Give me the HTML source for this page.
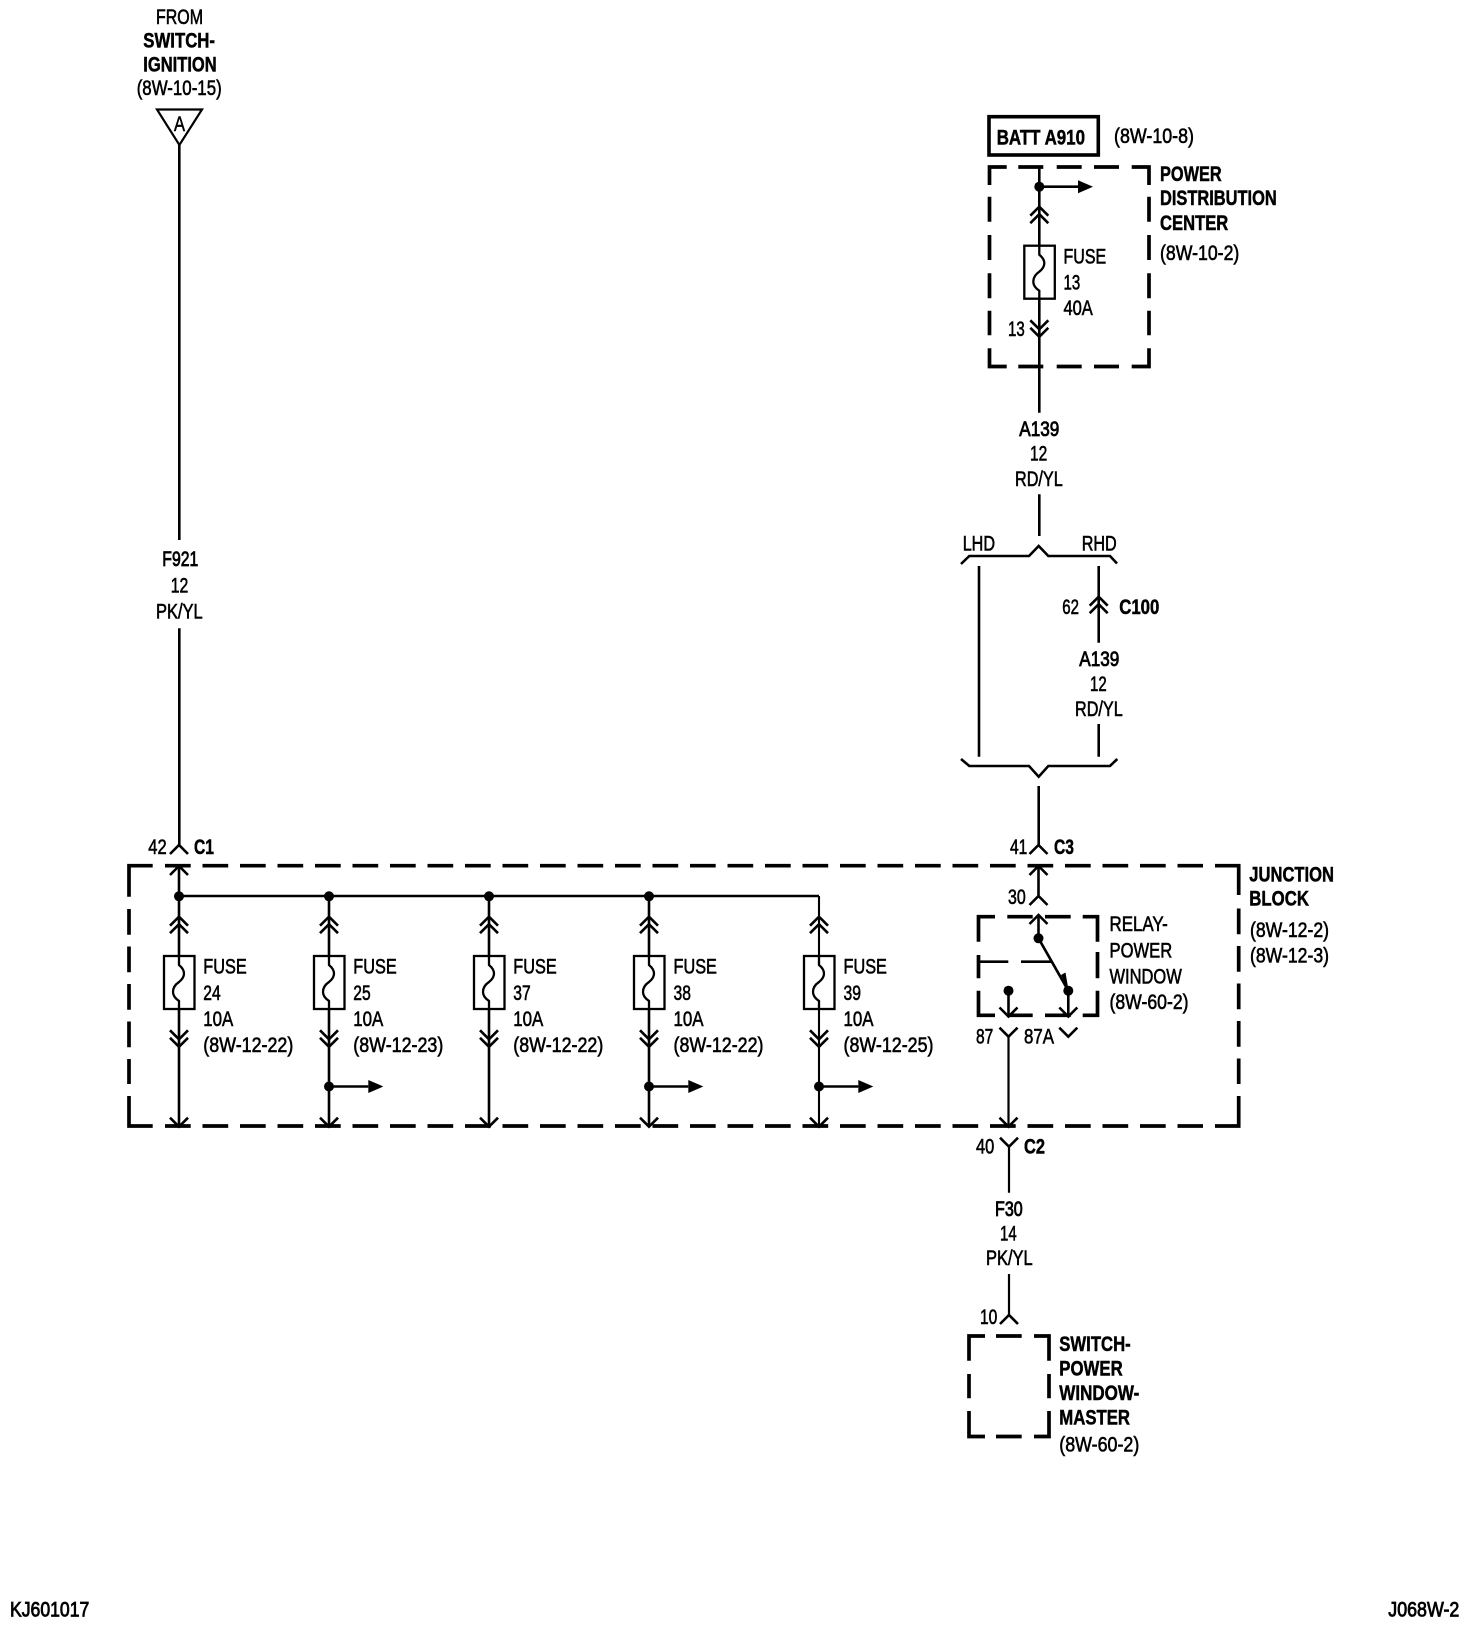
<!DOCTYPE html>
<html><head><meta charset="utf-8"><style>
html,body{margin:0;padding:0;background:#fff}
svg{display:block}
text{font-family:"Liberation Sans",sans-serif;font-size:21px;fill:#000}
.r{stroke:#000;stroke-width:.6}
.m{stroke:#000;stroke-width:.85}
.b{font-weight:bold;stroke:#000;stroke-width:.5}
.w{fill:none;stroke:#000;stroke-width:2.6;stroke-linejoin:miter}
.d{fill:none;stroke:#000;stroke-width:3.7;stroke-linejoin:miter}
.f{fill:#000;stroke:none}
</style></head><body>
<svg width="1472" height="1628" viewBox="0 0 1472 1628" xmlns="http://www.w3.org/2000/svg">
<defs>
<path id="cu" class="w" d="M-9 9L0 0L9 9"/>
<path id="cd" class="w" d="M-9 -9L0 0L9 -9"/>
<g id="du"><use href="#cu"/><use href="#cu" y="7.5"/></g>
<g id="dd"><use href="#cd"/><use href="#cd" y="7.5"/></g>
<g id="fuse"><rect x="-15" y="0" width="30.5" height="53" fill="none" stroke="#000" stroke-width="2.3"/>
<path d="M0 0V9Q5 13 5 17.5Q5 22 0 26Q-6 30 -6 36Q-6 41 0 45V53" fill="none" stroke="#000" stroke-width="2.3"/></g>
<path id="ar" class="f" d="M0 -6.5L15 0L0 6.5Z"/>
</defs>

<!-- left feed -->
<text class="r" x="156" y="24" textLength="47" lengthAdjust="spacingAndGlyphs">FROM</text>
<text class="b" x="143.3" y="47.7" textLength="71.7" lengthAdjust="spacingAndGlyphs">SWITCH-</text>
<text class="b" x="143.3" y="71.7" textLength="73.4" lengthAdjust="spacingAndGlyphs">IGNITION</text>
<text class="r" x="136.7" y="95" textLength="85" lengthAdjust="spacingAndGlyphs">(8W-10-15)</text>
<path d="M157 109.5H202L179.4 145Z" fill="none" stroke="#000" stroke-width="2.2"/>
<text class="r" x="174" y="131" textLength="11" lengthAdjust="spacingAndGlyphs" style="font-size:21px">A</text>
<path class="w" d="M179.3 145V540M179.3 628.3V845"/>
<text class="m" x="162.3" y="566" textLength="36" lengthAdjust="spacingAndGlyphs">F921</text>
<text class="r" x="170.7" y="592.3" textLength="17.6" lengthAdjust="spacingAndGlyphs">12</text>
<text class="r" x="156" y="618.3" textLength="46.7" lengthAdjust="spacingAndGlyphs">PK/YL</text>

<!-- BATT -->
<rect x="989" y="116.7" width="109.3" height="38.3" fill="none" stroke="#000" stroke-width="3.6"/>
<text class="b" x="996.7" y="144.3" textLength="88.3" lengthAdjust="spacingAndGlyphs">BATT A910</text>
<text class="r" x="1114" y="143" textLength="80" lengthAdjust="spacingAndGlyphs">(8W-10-8)</text>

<!-- PDC box -->
<path class="d" d="M1006.7 167H989.5V185M1018.3 167H1043.3M1056.7 167H1081.7M1094 167H1119M1131.7 167H1149V185M989.5 196.7V221.7M989.5 235V260M989.5 273.3V298.3M989.5 310.7V335.3M989.5 348.3V366.5H1006.7M1018.3 366.5H1043.3M1056.7 366.5H1081.7M1094 366.5H1119M1131.7 366.5H1149V348.3M1149 196.7V221.7M1149 235V260M1149 273.3V298.3M1149 310.7V335.3"/>
<path class="w" d="M1039.3 166V245.7M1039.3 298.7V412.7M1039.3 494.3V536M1039.3 186.7H1078"/>
<circle class="f" cx="1039.3" cy="186.7" r="5"/>
<use href="#ar" x="1078" y="186.7"/>
<use href="#du" x="1039.3" y="206.7"/>
<use href="#fuse" x="1039.3" y="245.7"/>
<use href="#dd" x="1039.3" y="329.3"/>
<text class="r" x="1063.5" y="263.3" textLength="42.7" lengthAdjust="spacingAndGlyphs">FUSE</text>
<text class="r" x="1063.5" y="289.3" textLength="16.7" lengthAdjust="spacingAndGlyphs">13</text>
<text class="r" x="1063.5" y="315" textLength="29.3" lengthAdjust="spacingAndGlyphs">40A</text>
<text class="r" x="1008" y="336" textLength="16.7" lengthAdjust="spacingAndGlyphs">13</text>
<text class="b" x="1160" y="181" textLength="61.7" lengthAdjust="spacingAndGlyphs">POWER</text>
<text class="b" x="1160" y="205" textLength="116.7" lengthAdjust="spacingAndGlyphs">DISTRIBUTION</text>
<text class="b" x="1160" y="230" textLength="68.3" lengthAdjust="spacingAndGlyphs">CENTER</text>
<text class="r" x="1160" y="260" textLength="79.3" lengthAdjust="spacingAndGlyphs">(8W-10-2)</text>

<text class="m" x="1019.3" y="436" textLength="40" lengthAdjust="spacingAndGlyphs">A139</text>
<text class="r" x="1030" y="460.7" textLength="17.3" lengthAdjust="spacingAndGlyphs">12</text>
<text class="r" x="1015" y="486" textLength="47.7" lengthAdjust="spacingAndGlyphs">RD/YL</text>

<!-- LHD / RHD -->
<text class="r" x="962.7" y="550.7" textLength="32.3" lengthAdjust="spacingAndGlyphs">LHD</text>
<text class="r" x="1081.7" y="550.7" textLength="35" lengthAdjust="spacingAndGlyphs">RHD</text>
<path class="w" d="M961 564L969.3 556H1029L1038.7 546L1048.3 556H1110L1117 563.5"/>
<path class="w" d="M979 566V756.7M1098.7 566V642.7M1098.7 724V756.7"/>
<use href="#du" x="1098.7" y="596.7"/>
<text class="r" x="1062.3" y="614" textLength="16.7" lengthAdjust="spacingAndGlyphs">62</text>
<text class="b" x="1119.3" y="614" textLength="40" lengthAdjust="spacingAndGlyphs">C100</text>
<text class="m" x="1079.3" y="666" textLength="40" lengthAdjust="spacingAndGlyphs">A139</text>
<text class="r" x="1090" y="691" textLength="16.7" lengthAdjust="spacingAndGlyphs">12</text>
<text class="r" x="1075" y="716" textLength="47.7" lengthAdjust="spacingAndGlyphs">RD/YL</text>
<path class="w" d="M961 759L969.3 766H1029L1038.7 776.7L1048.3 766H1110L1117.3 759"/>
<path class="w" d="M1038.7 786V845"/>

<!-- connectors above junction block -->
<use href="#cu" x="179" y="845"/>
<use href="#cu" x="1038.5" y="845"/>
<text class="r" x="148.3" y="854" textLength="18.4" lengthAdjust="spacingAndGlyphs">42</text>
<text class="b" x="194" y="854" textLength="20" lengthAdjust="spacingAndGlyphs">C1</text>
<text class="r" x="1010" y="854" textLength="17.3" lengthAdjust="spacingAndGlyphs">41</text>
<text class="b" x="1054" y="854" textLength="20" lengthAdjust="spacingAndGlyphs">C3</text>

<!-- junction block -->
<path class="d" d="M152.7 865.7H129V896.7M1215 865.7H1238.7V895M129 1096V1126H152.7M1238.7 1096V1126H1215"/>
<path class="d" d="M165 865.7H1203" stroke-dasharray="25.7 11.8"/>
<path class="d" d="M165 1126H1203" stroke-dasharray="25.7 11.8"/>
<path class="d" d="M129 909V1084" stroke-dasharray="25.7 11.8"/>
<path class="d" d="M1238.7 908.5V1084" stroke-dasharray="25.7 11.8"/>

<!-- bus -->
<path class="w" d="M179 866V956M179 1009V1126M179 896H819"/>
<path class="w" d="M329 896V956M329 1009V1126M489 896V956M489 1009V1126M649 896V956M649 1009V1126"/>
<path d="M819 896V956M819 1009V1126" fill="none" stroke="#000" stroke-width="2.1"/>
<use href="#cu" x="179" y="866"/>
<circle class="f" cx="179" cy="896.3" r="5"/>
<circle class="f" cx="329" cy="896.3" r="5"/>
<circle class="f" cx="489" cy="896.3" r="5"/>
<circle class="f" cx="649" cy="896.3" r="5"/>
<use href="#du" x="179" y="916.7"/><use href="#du" x="329" y="916.7"/><use href="#du" x="489" y="916.7"/><use href="#du" x="649" y="916.7"/><use href="#du" x="819" y="916.7"/>
<use href="#fuse" x="179" y="956"/><use href="#fuse" x="329" y="956"/><use href="#fuse" x="489" y="956"/><use href="#fuse" x="649" y="956"/><use href="#fuse" x="819" y="956"/>
<use href="#dd" x="179" y="1039.3"/><use href="#dd" x="329" y="1039.3"/><use href="#dd" x="489" y="1039.3"/><use href="#dd" x="649" y="1039.3"/><use href="#dd" x="819" y="1039.3"/>
<use href="#cd" x="179" y="1126.7"/><use href="#cd" x="329" y="1126.7"/><use href="#cd" x="489" y="1126.7"/><use href="#cd" x="649" y="1126.7"/><use href="#cd" x="819" y="1126.7"/>

<circle class="f" cx="329" cy="1086.5" r="5"/>
<circle class="f" cx="649" cy="1086.5" r="5"/>
<circle class="f" cx="819" cy="1086.5" r="5"/>
<path class="w" d="M329 1086.5H368.3M649 1086.5H688.3M819 1086.5H858.3"/>
<use href="#ar" x="368.3" y="1086.5"/><use href="#ar" x="688.3" y="1086.5"/><use href="#ar" x="858.3" y="1086.5"/>

<!-- fuse labels -->
<text class="r" x="203.3" y="973.3" textLength="43.4" lengthAdjust="spacingAndGlyphs">FUSE</text>
<text class="r" x="203.3" y="1000" textLength="17.4" lengthAdjust="spacingAndGlyphs">24</text>
<text class="r" x="203.3" y="1026" textLength="30" lengthAdjust="spacingAndGlyphs">10A</text>
<text class="r" x="203.3" y="1052" textLength="90" lengthAdjust="spacingAndGlyphs">(8W-12-22)</text>
<text class="r" x="353.3" y="973.3" textLength="43.4" lengthAdjust="spacingAndGlyphs">FUSE</text>
<text class="r" x="353.3" y="1000" textLength="17.4" lengthAdjust="spacingAndGlyphs">25</text>
<text class="r" x="353.3" y="1026" textLength="30" lengthAdjust="spacingAndGlyphs">10A</text>
<text class="r" x="353.3" y="1052" textLength="90" lengthAdjust="spacingAndGlyphs">(8W-12-23)</text>
<text class="r" x="513.3" y="973.3" textLength="43.4" lengthAdjust="spacingAndGlyphs">FUSE</text>
<text class="r" x="513.3" y="1000" textLength="17.4" lengthAdjust="spacingAndGlyphs">37</text>
<text class="r" x="513.3" y="1026" textLength="30" lengthAdjust="spacingAndGlyphs">10A</text>
<text class="r" x="513.3" y="1052" textLength="90" lengthAdjust="spacingAndGlyphs">(8W-12-22)</text>
<text class="r" x="673.5" y="973.3" textLength="43.4" lengthAdjust="spacingAndGlyphs">FUSE</text>
<text class="r" x="673.5" y="1000" textLength="17.4" lengthAdjust="spacingAndGlyphs">38</text>
<text class="r" x="673.5" y="1026" textLength="30" lengthAdjust="spacingAndGlyphs">10A</text>
<text class="r" x="673.5" y="1052" textLength="90" lengthAdjust="spacingAndGlyphs">(8W-12-22)</text>
<text class="r" x="843.5" y="973.3" textLength="43.4" lengthAdjust="spacingAndGlyphs">FUSE</text>
<text class="r" x="843.5" y="1000" textLength="17.4" lengthAdjust="spacingAndGlyphs">39</text>
<text class="r" x="843.5" y="1026" textLength="30" lengthAdjust="spacingAndGlyphs">10A</text>
<text class="r" x="843.5" y="1052" textLength="90" lengthAdjust="spacingAndGlyphs">(8W-12-25)</text>

<!-- relay -->
<path class="w" d="M1038.5 866V896"/>
<use href="#cu" x="1038.5" y="866"/>
<use href="#cu" x="1038.5" y="896"/>
<text class="r" x="1008" y="904" textLength="17.7" lengthAdjust="spacingAndGlyphs">30</text>
<path class="d" d="M995 916.7H978.5V941.7M1007.3 916.7H1032.7M1045 916.7H1070.7M1082.7 916.7H1097.5V941.7M978.5 955V978.3M978.5 990.7V1015.3H995M1007.3 1015.3H1032.7M1045 1015.3H1070.7M1082.7 1015.3H1097.5V990.7M1097.5 952V978.3"/>
<use href="#cu" x="1038.5" y="915"/>
<path class="w" d="M1038.5 915V938.3"/>
<circle class="f" cx="1038.5" cy="938.3" r="5"/>
<path class="w" d="M1038.5 938.3L1068.3 990.7"/>
<path class="f" d="M1061 975L1065.5 972.5L1068.5 990Z"/>
<circle class="f" cx="1068.3" cy="990.7" r="5"/>
<circle class="f" cx="1008.5" cy="990.7" r="5"/>
<path class="w" d="M980 961.7H1008.3M1021 961.7H1051.7"/>
<path class="w" d="M1008.5 990.7V1016M1068.3 990.7V1016"/>
<use href="#cd" x="1008.5" y="1016.5"/>
<use href="#cd" x="1068.3" y="1016.5"/>
<use href="#cd" x="1008.5" y="1036.7"/>
<use href="#cd" x="1068.3" y="1036.7"/>
<path d="M1008.5 1036.7V1126" fill="none" stroke="#000" stroke-width="2.2"/>
<use href="#cd" x="1008.5" y="1126.7"/>
<text class="r" x="976" y="1043.3" textLength="17.3" lengthAdjust="spacingAndGlyphs">87</text>
<text class="r" x="1024" y="1043.3" textLength="30" lengthAdjust="spacingAndGlyphs">87A</text>
<text class="r" x="1109.5" y="931" textLength="58.3" lengthAdjust="spacingAndGlyphs">RELAY-</text>
<text class="r" x="1109.5" y="957.7" textLength="62.7" lengthAdjust="spacingAndGlyphs">POWER</text>
<text class="r" x="1109.5" y="983.3" textLength="72.3" lengthAdjust="spacingAndGlyphs">WINDOW</text>
<text class="r" x="1109.5" y="1009" textLength="79" lengthAdjust="spacingAndGlyphs">(8W-60-2)</text>
<text class="b" x="1249.3" y="881.7" textLength="84.7" lengthAdjust="spacingAndGlyphs">JUNCTION</text>
<text class="b" x="1249.3" y="905.7" textLength="59.7" lengthAdjust="spacingAndGlyphs">BLOCK</text>
<text class="r" x="1250" y="937" textLength="79" lengthAdjust="spacingAndGlyphs">(8W-12-2)</text>
<text class="r" x="1250" y="962.5" textLength="79" lengthAdjust="spacingAndGlyphs">(8W-12-3)</text>

<!-- C2 and switch -->
<use href="#cd" x="1009" y="1146.7"/>
<path d="M1009 1146.7V1192.7M1009 1274V1315" fill="none" stroke="#000" stroke-width="2.2"/>
<text class="r" x="976" y="1153.3" textLength="18.3" lengthAdjust="spacingAndGlyphs">40</text>
<text class="b" x="1024" y="1153.3" textLength="21" lengthAdjust="spacingAndGlyphs">C2</text>
<text class="m" x="995" y="1216" textLength="27.7" lengthAdjust="spacingAndGlyphs">F30</text>
<text class="r" x="1000" y="1240.7" textLength="16.7" lengthAdjust="spacingAndGlyphs">14</text>
<text class="r" x="986" y="1265" textLength="46.7" lengthAdjust="spacingAndGlyphs">PK/YL</text>
<use href="#cu" x="1009" y="1315"/>
<text class="r" x="980" y="1324" textLength="17.3" lengthAdjust="spacingAndGlyphs">10</text>
<path class="d" d="M985 1336H969V1360.7M996 1336H1021.7M1034 1336H1049V1360.7M969 1374V1398.3M969 1411V1436.5H985M996 1436.5H1021.7M1034 1436.5H1049V1411M1049 1374V1398.3"/>
<text class="b" x="1059.3" y="1351" textLength="71.4" lengthAdjust="spacingAndGlyphs">SWITCH-</text>
<text class="b" x="1059.3" y="1375.7" textLength="63.4" lengthAdjust="spacingAndGlyphs">POWER</text>
<text class="b" x="1059.3" y="1400" textLength="80" lengthAdjust="spacingAndGlyphs">WINDOW-</text>
<text class="b" x="1059.3" y="1424.5" textLength="70.7" lengthAdjust="spacingAndGlyphs">MASTER</text>
<text class="r" x="1059.3" y="1451.5" textLength="80" lengthAdjust="spacingAndGlyphs">(8W-60-2)</text>

<!-- footer -->
<text class="m" x="10" y="1616.7" textLength="79.3" lengthAdjust="spacingAndGlyphs">KJ601017</text>
<text class="m" x="1388.3" y="1616.7" textLength="71" lengthAdjust="spacingAndGlyphs">J068W-2</text>
</svg>
</body></html>
